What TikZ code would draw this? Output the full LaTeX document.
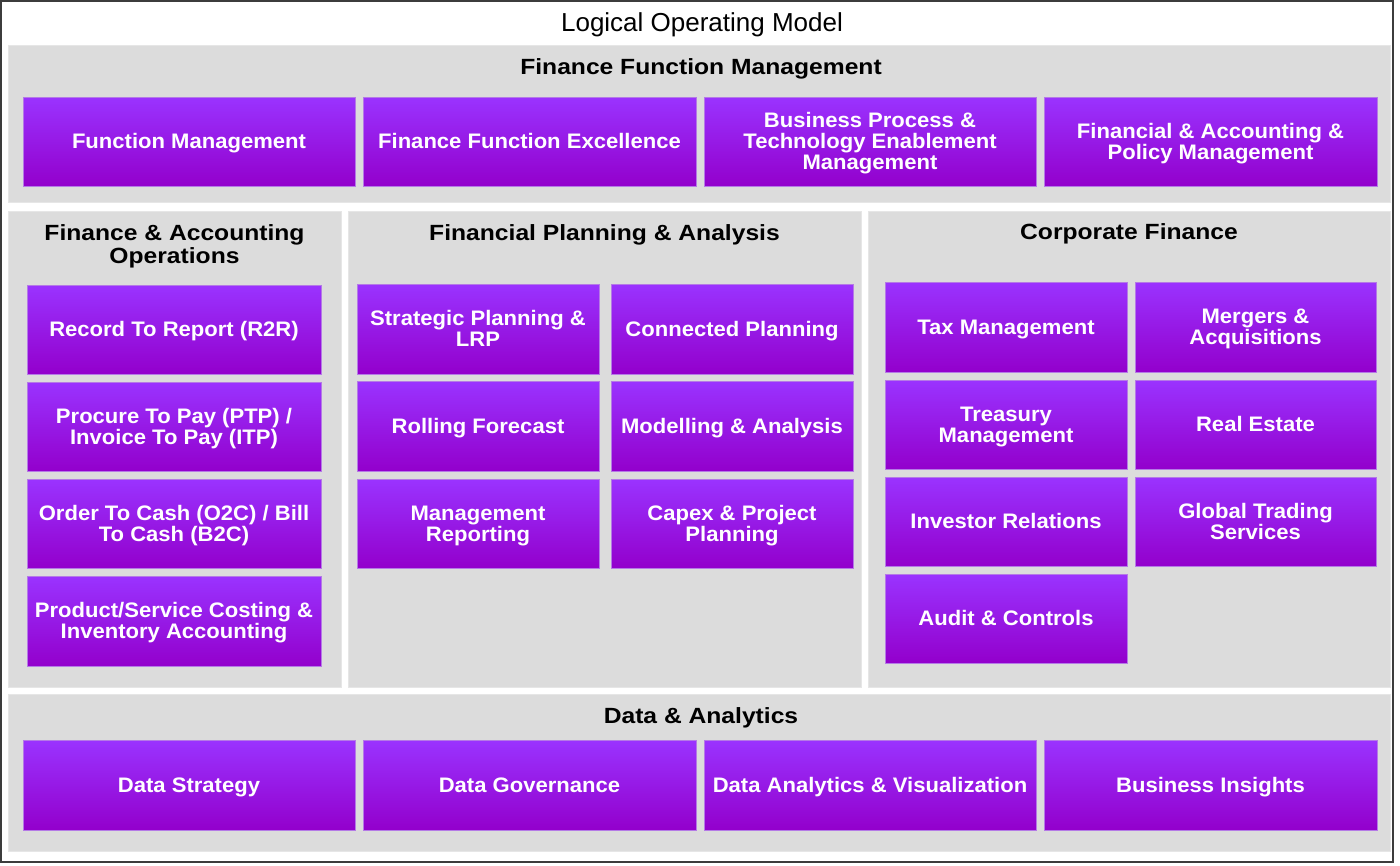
\documentclass[tikz,border=0pt]{standalone}
\usepackage{fontspec}
\setmainfont{Liberation Sans}
\newfontfamily\titlefont{Liberation Sans}
\newfontfamily\headfont{Liberation Sans}[FakeStretch=1.12]
\newfontfamily\boxfont{Liberation Sans}[FakeStretch=1.05]

\definecolor{panelgray}{HTML}{DCDCDC}
\definecolor{paneledge}{HTML}{E6E6E6}
\definecolor{purpletop}{HTML}{9A33FF}
\definecolor{purplebot}{HTML}{9300CC}
\definecolor{purpleedge}{HTML}{B57AE6}
\definecolor{framegray}{HTML}{3C3C3C}

% one line of text whose box is exactly cap height tall, no depth
\newcommand\capline[1]{\smash{#1}\vphantom{X}}

\tikzset{
  panel/.style={fill=panelgray, draw=paneledge, line width=1pt},
  pbox/.style={rectangle, inner sep=0pt, draw=purpleedge, line width=1pt,
    top color=purpletop, bottom color=purplebot, text=white, align=center,
    font=\boxfont\bfseries\fontsize{21}{21}\selectfont},
  head/.style={inner sep=0pt, align=center, text=black,
    font=\headfont\bfseries\fontsize{22}{23.5}\selectfont},
}

% \pbx{name}{x1}{y1}{x2}{y2}{text}
\newcommand\pbx[6]{%
  \node[pbox, minimum width={#4-#2}, minimum height={#5-#3}]
    (#1) at ({(#2+#4)/2},{(#3+#5)/2}) {#6};}

\begin{document}
\begin{tikzpicture}[x=1pt, y=-1pt]
  \useasboundingbox (0,0) rectangle (1400,865);
  \fill[white] (0,0) rectangle (1400,865);
  \draw[framegray, line width=2pt] (1,1) rectangle (1393,862);

  \node[inner sep=0pt, anchor=base, font=\titlefont\fontsize{26}{30}\selectfont]
    (title) at (702,31) {Logical Operating Model};

  % section panels
  \path[panel] (8,45) rectangle (1390,202);
  \path[panel] (8,211) rectangle (341,687);
  \path[panel] (348,211) rectangle (861,687);
  \path[panel] (868,211) rectangle (1390,687);
  \path[panel] (8,694) rectangle (1390,851);

  % section headings
  \node[head] (hffm) at (701,67.1) {\capline{Finance Function Management}};
  \node[head] (hfao) at (174.5,244.5) {\capline{Finance \& Accounting}\\\capline{Operations}};
  \node[head] (hfpa) at (604.5,233.1) {\capline{Financial Planning \& Analysis}};
  \node[head] (hcf)  at (1129,232.1) {\capline{Corporate Finance}};
  \node[head] (hda)  at (701,716.1) {\capline{Data \& Analytics}};

  % Finance Function Management
  \pbx{fm1}{23}{97}{355}{186}{\capline{Function Management}}
  \pbx{fm2}{363}{97}{696}{186}{\capline{Finance Function Excellence}}
  \pbx{fm3}{704}{97}{1036}{186}{\capline{Business Process \&}\\\capline{Technology Enablement}\\\capline{Management}}
  \pbx{fm4}{1044}{97}{1377}{186}{\capline{Financial \& Accounting \&}\\\capline{Policy Management}}

  % Finance & Accounting Operations
  \pbx{fa1}{27}{285}{321}{374}{\capline{Record To Report (R2R)}}
  \pbx{fa2}{27}{382}{321}{471}{\capline{Procure To Pay (PTP) /}\\\capline{Invoice To Pay (ITP)}}
  \pbx{fa3}{27}{479}{321}{568}{\capline{Order To Cash (O2C) / Bill}\\\capline{To Cash (B2C)}}
  \pbx{fa4}{27}{576}{321}{666}{\capline{Product/Service Costing \&}\\\capline{Inventory Accounting}}

  % Financial Planning & Analysis
  \pbx{pa1}{357}{284}{599}{374}{\capline{Strategic Planning \&}\\\capline{LRP}}
  \pbx{pa2}{611}{284}{853}{374}{\capline{Connected Planning}}
  \pbx{pa3}{357}{381}{599}{471}{\capline{Rolling Forecast}}
  \pbx{pa4}{611}{381}{853}{471}{\capline{Modelling \& Analysis}}
  \pbx{pa5}{357}{479}{599}{568}{\capline{Management}\\\capline{Reporting}}
  \pbx{pa6}{611}{479}{853}{568}{\capline{Capex \& Project}\\\capline{Planning}}

  % Corporate Finance
  \pbx{cf1}{885}{282}{1127}{372}{\capline{Tax Management}}
  \pbx{cf2}{1135}{282}{1376}{372}{\capline{Mergers \&}\\\capline{Acquisitions}}
  \pbx{cf3}{885}{380}{1127}{469}{\capline{Treasury}\\\capline{Management}}
  \pbx{cf4}{1135}{380}{1376}{469}{\capline{Real Estate}}
  \pbx{cf5}{885}{477}{1127}{566}{\capline{Investor Relations}}
  \pbx{cf6}{1135}{477}{1376}{566}{\capline{Global Trading}\\\capline{Services}}
  \pbx{cf7}{885}{574}{1127}{663}{\capline{Audit \& Controls}}

  % Data & Analytics
  \pbx{da1}{23}{740}{355}{830}{\capline{Data Strategy}}
  \pbx{da2}{363}{740}{696}{830}{\capline{Data Governance}}
  \pbx{da3}{704}{740}{1036}{830}{\capline{Data Analytics \& Visualization}}
  \pbx{da4}{1044}{740}{1377}{830}{\capline{Business Insights}}
\end{tikzpicture}
\end{document}
